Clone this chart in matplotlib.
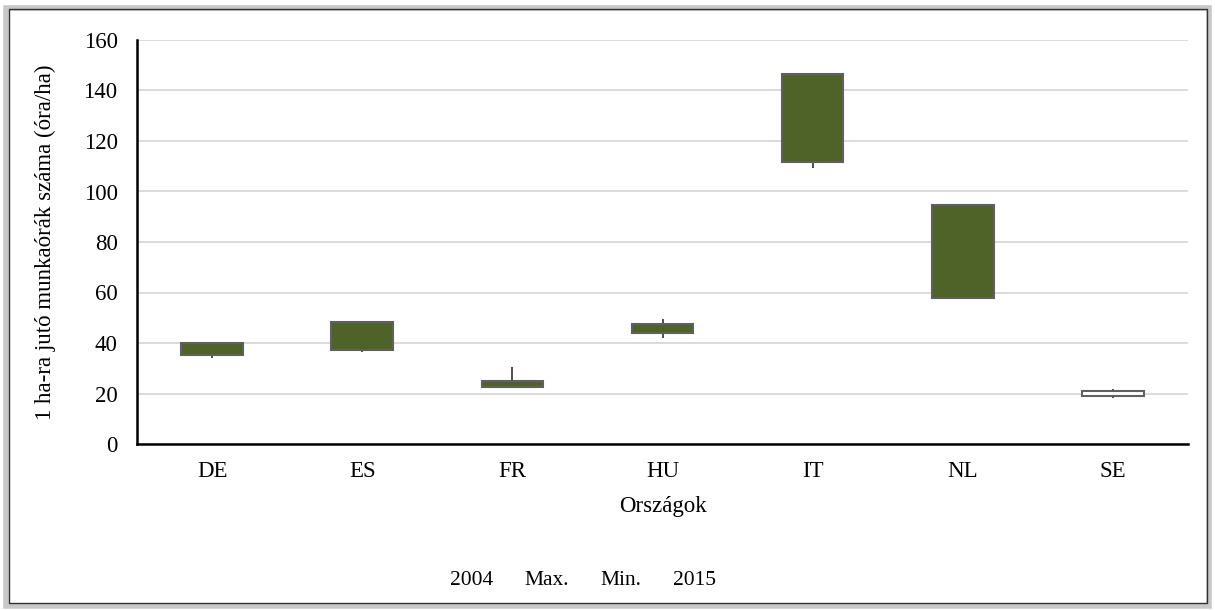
import matplotlib
matplotlib.use('Agg')
import matplotlib.pyplot as plt
from matplotlib.lines import Line2D
from matplotlib.patches import Rectangle

countries = ['DE', 'ES', 'FR', 'HU', 'IT', 'NL', 'SE']
open_2004 = [40.0, 48.3, 24.9, 47.5, 146.7, 94.7, 19.0]
high_max = [40.0, 48.3, 30.5, 49.5, 146.7, 94.7, 21.8]
low_min = [34.1, 36.3, 22.6, 42.0, 109.4, 57.9, 18.1]
close_2015 = [35.4, 37.1, 22.6, 44.0, 111.7, 57.9, 21.1]
legend_labels = ['2004', 'Max.', 'Min.', '2015']

plt.rcParams['font.family'] = ['Liberation Serif', 'DejaVu Serif']
plt.rcParams['font.size'] = 16.5

fig = plt.figure(figsize=(12.15, 6.1), dpi=100)
ax = fig.add_axes([137 / 1215, 1 - 444 / 610, (1188 - 137) / 1215, (444 - 40) / 610])

x = list(range(len(countries)))
for i in x:
    o, h, l, c = open_2004[i], high_max[i], low_min[i], close_2015[i]
    ax.vlines(i, l, h, color='#404040', lw=1.3, zorder=2)
    face = '#4F6228' if c < o else 'white'
    bottom = min(o, c)
    ax.bar(i, abs(o - c), bottom=bottom, width=0.41, color=face,
           edgecolor='#606060', linewidth=1.5, zorder=3)

ax.set_xlim(-0.5, len(countries) - 0.5)
ax.set_ylim(0, 160)
ax.set_yticks(range(0, 161, 20))
ax.set_xticks(x)
ax.set_xticklabels(countries)
ax.tick_params(axis='y', length=0, pad=14)
ax.tick_params(axis='x', length=0, pad=12)
ax.yaxis.grid(True, color='#d9d9d9', lw=1.3)
ax.set_axisbelow(True)
for s in ['top', 'right']:
    ax.spines[s].set_visible(False)
ax.spines['left'].set_linewidth(1.8)
ax.spines['bottom'].set_linewidth(1.8)
ax.set_xlabel('Országok', labelpad=10)
ax.set_ylabel('1 ha-ra jutó munkaórák száma (óra/ha)', labelpad=20)

handles = [Line2D([], [], linestyle='none') for _ in legend_labels]
fig.legend(handles, legend_labels, loc='center', bbox_to_anchor=(583 / 1215, 1 - 580 / 610),
           ncol=4, frameon=False, handlelength=0, handletextpad=0, columnspacing=1.45,
           fontsize=15.5)

# outer chart frame with a soft shadow
fig.patches.append(Rectangle((6 / 1215, 4 / 610), 1203 / 1215, 598 / 610, transform=fig.transFigure,
                             fill=False, edgecolor='#c8c8c8', lw=4, zorder=0))
fig.patches.append(Rectangle((9 / 1215, 7 / 610), 1198 / 1215, 594 / 610, transform=fig.transFigure,
                             fill=False, edgecolor='#303030', lw=1, zorder=1))

fig.savefig('out.png', dpi=100)
